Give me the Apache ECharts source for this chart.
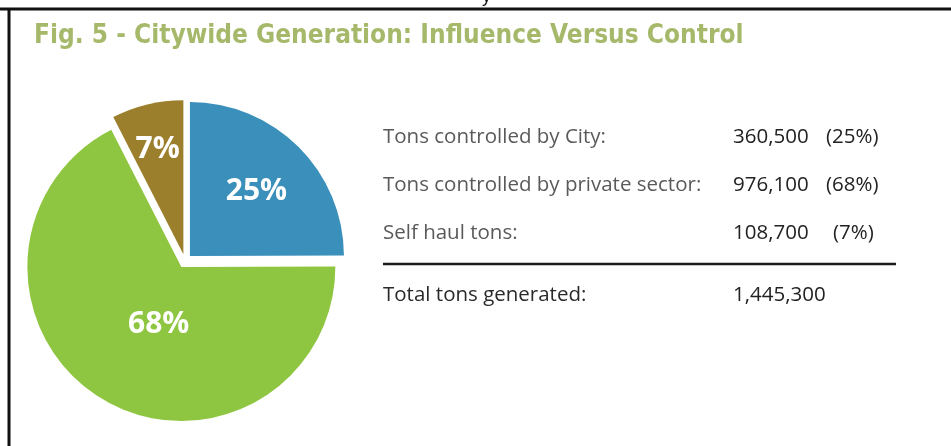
<!DOCTYPE html>
<html>
<head>
<meta charset="utf-8">
<script src="https://cdn.jsdelivr.net/npm/echarts@6/dist/echarts.min.js"></script>
<style>
html,body{margin:0;padding:0;background:#fff;}
#chart{width:951px;height:446px;}
</style>
</head>
<body>
<div id="chart"></div>
<script>
// ---- data ----
var categories = ['Tons controlled by City:', 'Tons controlled by private sector:', 'Self haul tons:'];
var tons = [360500, 976100, 108700];
var percents = [25, 68, 7];
var totalLabel = 'Total tons generated:';
var totalTons = 1445300;
var sliceColors = ['#3a8fbb', '#8fc641', '#9c7f2c'];
var titleText = 'Fig. 5 - Citywide Generation: Influence Versus Control';

// label nudges (dx, dy) for the in-slice percentage labels
var labelNudge = [[10, -8], [19, -11], [-7, -27]];

function fmt(n) { return n.toLocaleString('en-US'); }

var chart = echarts.init(document.getElementById('chart'), null, {renderer: 'canvas'});

var rowY = [137, 185, 233];
var FONT = 'Open Sans';
var graphics = [
  {type: 'line', shape: {x1: 0, y1: 9, x2: 951, y2: 9}, style: {stroke: '#111', lineWidth: 3}},
  {type: 'line', shape: {x1: 9, y1: 8, x2: 9, y2: 446}, style: {stroke: '#111', lineWidth: 3}},
  {type: 'text', left: 482, top: -12, style: {text: 'y', fontSize: 18, fill: '#111', fontFamily: 'Liberation Sans'}},
  {type: 'line', shape: {x1: 383, y1: 264, x2: 896, y2: 264}, style: {stroke: '#1a1a1a', lineWidth: 2.5}}
];
categories.forEach(function (c, i) {
  graphics.push({type: 'text', x: 383, y: rowY[i], style: {text: c, fontSize: 20.5, fill: '#5a5a5a', fontFamily: FONT, verticalAlign: 'middle'}});
  graphics.push({type: 'text', x: 733, y: rowY[i], style: {text: fmt(tons[i]), fontSize: 20.5, fill: '#222', fontFamily: FONT, verticalAlign: 'middle'}});
  graphics.push({type: 'text', x: percents[i] < 10 ? 833 : 826, y: rowY[i], style: {text: '(' + percents[i] + '%)', fontSize: 20.5, fill: '#222', fontFamily: FONT, verticalAlign: 'middle'}});
});
graphics.push({type: 'text', x: 383, y: 295, style: {text: totalLabel, fontSize: 20.5, fill: '#2a2a2a', fontFamily: FONT, verticalAlign: 'middle'}});
graphics.push({type: 'text', x: 733, y: 295, style: {text: fmt(totalTons), fontSize: 20.5, fill: '#222', fontFamily: FONT, verticalAlign: 'middle'}});

chart.setOption({
  animation: false,
  title: {
    text: titleText,
    left: 29, top: 18,
    textStyle: {color: '#a6b96b', fontSize: 26, fontWeight: 'bold', fontFamily: '"DejaVu Sans Condensed", "Open Sans", sans-serif'}
  },
  graphic: graphics,
  series: [{
    type: 'pie',
    center: [185, 261],
    radius: 154,
    startAngle: 90,
    clockwise: true,
    selectedMode: 'multiple',
    selectedOffset: 7,
    emphasis: {disabled: true},
    itemStyle: {borderWidth: 0},
    label: {
      position: 'inside',
      color: '#fff',
      fontSize: 30,
      fontWeight: 'bold',
      fontFamily: FONT,
      formatter: function (p) { return percents[p.dataIndex] + '%'; }
    },
    labelLine: {show: false},
    labelLayout: function (p) {
      var n = labelNudge[p.dataIndex];
      return {dx: n[0], dy: n[1]};
    },
    data: categories.map(function (c, i) {
      return {name: c, value: tons[i], selected: true, itemStyle: {color: sliceColors[i]}};
    })
  }]
});
</script>
</body>
</html>
